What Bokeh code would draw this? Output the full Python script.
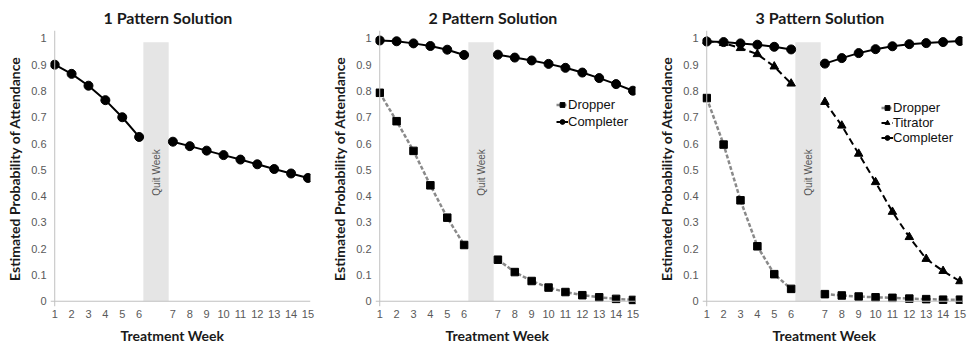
import math
from bokeh.plotting import figure
from bokeh.models import Range1d, FixedTicker, Span, Legend, LegendItem, Title
from bokeh.layouts import row
from bokeh.embed import file_html
from bokeh.resources import INLINE
from bokeh.core.properties import value

# ---------------- data ----------------
weeks = list(range(1, 16))
quit_label = "Quit Week"
titles = ["1 Pattern Solution", "2 Pattern Solution", "3 Pattern Solution"]
x_label = "Treatment Week"
y_label = "Estimated Probability of Attendance"
y_ticks = [0, 0.1, 0.2, 0.3, 0.4, 0.5, 0.6, 0.7, 0.8, 0.9, 1]

# 1 pattern
p1_all = [0.900, 0.865, 0.820, 0.765, 0.700, 0.625,
          0.607, 0.590, 0.573, 0.556, 0.539, 0.521, 0.503, 0.486, 0.469]
# 2 pattern
p2_completer = [0.992, 0.989, 0.981, 0.971, 0.957, 0.937,
                0.938, 0.927, 0.916, 0.903, 0.888, 0.870, 0.849, 0.826, 0.801]
p2_dropper = [0.793, 0.685, 0.572, 0.441, 0.318, 0.214,
              0.158, 0.111, 0.077, 0.052, 0.035, 0.023, 0.015, 0.009, 0.005]
# 3 pattern
p3_completer = [0.988, 0.986, 0.981, 0.976, 0.968, 0.958,
                0.904, 0.925, 0.944, 0.959, 0.970, 0.978, 0.982, 0.986, 0.990]
p3_titrator = [0.990, 0.982, 0.963, 0.940, 0.893, 0.828,
               0.758, 0.668, 0.561, 0.453, 0.340, 0.244, 0.161, 0.115, 0.076]
p3_dropper = [0.773, 0.596, 0.384, 0.209, 0.103, 0.047,
              0.027, 0.022, 0.018, 0.015, 0.013, 0.010, 0.008, 0.006, 0.006]

QUIT_AFTER = 6          # quit week sits between week 6 and week 7
QUIT_SLOT = QUIT_AFTER + 1


def slot(w):
    return w if w <= QUIT_AFTER else w + 1


LABEL_FONT = "Lato"
TICK_FONT = "Liberation Sans"
TICK_COLOR = "#595959"
AXIS_COLOR = "#c0c0c0"


def make_fig(title, width, br):
    p = figure(width=width, height=350, output_backend="svg", toolbar_location=None,
               x_range=Range1d(0.75, 16.15), y_range=Range1d(-0.02, 1.03),
               min_border_left=50, min_border_right=br, min_border_top=30,
               min_border_bottom=44)
    p.title.text = title
    p.title.align = "left"
    p.title.offset = 53
    p.title.text_font = LABEL_FONT
    p.title.text_font_size = "16px"
    p.title.text_font_style = "bold"
    p.title.text_color = "#1a1a1a"
    p.title.standoff = 8
    p.outline_line_color = None
    p.grid.visible = False

    p.xaxis.ticker = FixedTicker(ticks=[slot(w) for w in weeks])
    p.xaxis.major_label_overrides = {slot(w): str(w) for w in weeks}
    p.yaxis.ticker = FixedTicker(ticks=y_ticks)
    p.yaxis.major_label_overrides = {0: "0", 1: "1"}
    for ax in (p.xaxis[0], p.yaxis[0]):
        ax.axis_line_color = None
        ax.major_tick_line_color = None
        ax.minor_tick_line_color = None
        ax.major_tick_out = 0
        ax.major_tick_in = 0
        ax.major_label_text_font = TICK_FONT
        ax.major_label_text_font_size = "11px"
        ax.major_label_text_color = TICK_COLOR
        ax.axis_label_text_font = LABEL_FONT
        ax.axis_label_text_font_size = "14px"
        ax.axis_label_text_font_style = "bold"
        ax.axis_label_text_color = "#1a1a1a"
    p.yaxis.axis_label = y_label
    p.xaxis.major_label_standoff = 3
    p.yaxis.major_label_standoff = 4
    p.yaxis.axis_label_standoff = 5

    xt = Title(text=x_label, align="left", offset=70, standoff=9,
               text_font=LABEL_FONT, text_font_size="14px", text_font_style="bold",
               text_color="#1a1a1a")
    p.add_layout(xt, "below")

    p.add_layout(Span(location=1, dimension="height", line_color=AXIS_COLOR, line_width=1))
    p.add_layout(Span(location=0, dimension="width", line_color=AXIS_COLOR, line_width=1))

    # quit week band
    p.quad(left=[QUIT_SLOT - 0.75], right=[QUIT_SLOT + 0.75], bottom=[0], top=[0.985],
           fill_color="#e5e5e5", line_color=None)
    p.text(x=[QUIT_SLOT], y=[0.49], text=[quit_label], angle=math.pi / 2,
           text_align="center", text_baseline="middle", text_font=value(TICK_FONT),
           text_font_size="10px", text_color="#555555")
    return p


def series(p, vals, marker, size, line_color, dash, lw):
    xs_pre = [slot(w) for w in weeks if w <= QUIT_AFTER]
    xs_post = [slot(w) for w in weeks if w > QUIT_AFTER]
    ys_pre = vals[:QUIT_AFTER]
    ys_post = vals[QUIT_AFTER:]
    r1 = p.line(xs_pre, ys_pre, line_color=line_color, line_width=lw, line_dash=dash)
    p.line(xs_post, ys_post, line_color=line_color, line_width=lw, line_dash=dash)
    r2 = p.scatter([slot(w) for w in weeks], vals, marker=marker, size=size,
                   fill_color="black", line_color="black")
    return [r1, r2]


def add_legend(p, items, loc, spacing):
    lg = Legend(items=[LegendItem(label=l, renderers=r) for l, r in items],
                location=loc, background_fill_alpha=0, border_line_alpha=0,
                label_text_font=TICK_FONT, label_text_font_size="13px",
                label_text_color="#111111", glyph_width=12, glyph_height=13,
                label_height=13, label_width=70, spacing=spacing, padding=0, margin=0,
                label_standoff=0)
    p.add_layout(lg)


# panel 1
p1 = make_fig(titles[0], 325, 15)
series(p1, p1_all, "circle", 9, "black", "solid", 2)

# panel 2
p2 = make_fig(titles[1], 327, 17)
rd = series(p2, p2_dropper, "square", 7.5, "#8a8a8a", "4 2", 2.5)
rc = series(p2, p2_completer, "circle", 9, "black", "solid", 2)
add_legend(p2, [("Dropper", rd), ("Completer", rc)], (181, 177), 2)

# panel 3
p3 = make_fig(titles[2], 315, 5)
rd3 = series(p3, p3_dropper, "square", 7.5, "#8a8a8a", "4 2", 2.5)
rt3 = series(p3, p3_titrator, "triangle", 8.5, "black", "7 4", 2)
rc3 = series(p3, p3_completer, "circle", 9, "black", "solid", 2)
add_legend(p3, [("Dropper", rd3), ("Titrator", rt3), ("Completer", rc3)], (179, 161), 0)

layout = row(p1, p2, p3)
open("out.html", "w").write(file_html(layout, INLINE))
